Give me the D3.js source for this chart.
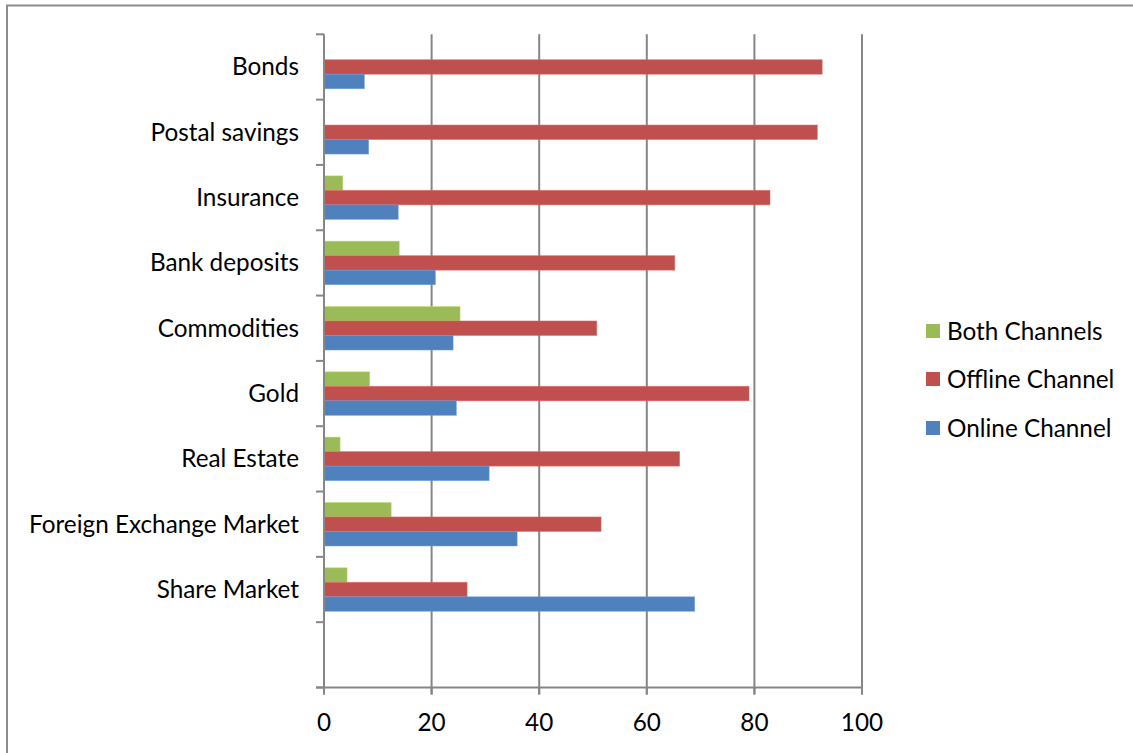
<!DOCTYPE html>
<html><head><meta charset="utf-8">
<script src="https://cdn.jsdelivr.net/npm/d3@7"></script>
<style>
body{margin:0;background:#fff;}
text{font-family:Lato,"Open Sans",sans-serif;fill:#000;}
</style></head>
<body>
<svg id="chart" width="1133" height="753"></svg>
<script>
const categories = ["Bonds","Postal savings","Insurance","Bank deposits","Commodities","Gold","Real Estate","Foreign Exchange Market","Share Market",""];
const seriesNames = ["Both Channels","Offline Channel","Online Channel"];
const bothValues    = [0, 0, 3.5, 14.0, 25.3, 8.5, 3.0, 12.5, 4.3, null];
const offlineValues = [92.6, 91.7, 82.9, 65.2, 50.7, 79.0, 66.1, 51.5, 26.6, null];
const onlineValues  = [7.5, 8.3, 13.8, 20.7, 24.0, 24.6, 30.7, 35.9, 68.9, null];
const xTicks = [0,20,40,60,80,100];
const colors = ["#9BBB59","#C0504D","#4F81BD"];

(function(){
const FS = 24.3;
const svg = d3.select("#chart");
svg.append("path").attr("d","M7,753 L7,5.5 L1133,5.5").attr("fill","none").attr("stroke","#8c8c8c").attr("stroke-width",2);

const pL = 324, pR = 862, pT = 34.3, pB = 687.5;
const x = d3.scaleLinear().domain([0,100]).range([pL,pR]);
const y = d3.scaleBand().domain(d3.range(categories.length)).range([pT,pB]);
const inner = d3.scaleBand().domain(d3.range(3)).range([0,y.bandwidth()]).paddingInner(0).paddingOuter(0.75);

svg.append("g").selectAll("line").data(xTicks.slice(1)).join("line")
  .attr("x1",d=>x(d)).attr("x2",d=>x(d)).attr("y1",pT).attr("y2",pB+7)
  .attr("stroke","#868686").attr("stroke-width",2);

const series = [bothValues, offlineValues, onlineValues];
series.forEach((vals,si)=>{
  svg.append("g").selectAll("rect").data(vals.map((v,i)=>({v,i})).filter(d=>d.v)).join("rect")
    .attr("x",x(0)).attr("y",d=>y(d.i)+inner(si))
    .attr("width",d=>x(d.v)-x(0)).attr("height",inner.bandwidth())
    .attr("fill",colors[si]).attr("stroke",d3.color(colors[si]).brighter(0.6)).attr("stroke-width",0.8).attr("stroke-opacity",0.6);
});

const yAxis = svg.append("g");
yAxis.append("line").attr("x1",pL).attr("x2",pL).attr("y1",pT).attr("y2",pB+7).attr("stroke","#868686").attr("stroke-width",2);
yAxis.selectAll("line.tk").data(d3.range(categories.length+1)).join("line").attr("class","tk")
  .attr("x1",pL-8).attr("x2",pL).attr("y1",i=>pT+i*y.step()).attr("y2",i=>pT+i*y.step())
  .attr("stroke","#868686").attr("stroke-width",2);
yAxis.selectAll("text").data(categories).join("text")
  .attr("x",299).attr("y",(d,i)=>y(i)+y.bandwidth()/2).attr("dy","0.35em")
  .attr("text-anchor","end").attr("font-size",FS).text(d=>d);

const xAxis = svg.append("g");
xAxis.append("line").attr("x1",pL-8).attr("x2",pR).attr("y1",pB).attr("y2",pB).attr("stroke","#868686").attr("stroke-width",2);
xAxis.selectAll("line.tk").data(xTicks).join("line").attr("class","tk")
  .attr("x1",d=>x(d)).attr("x2",d=>x(d)).attr("y1",pB).attr("y2",pB+7)
  .attr("stroke","#868686").attr("stroke-width",2);
xAxis.selectAll("text").data(xTicks).join("text")
  .attr("x",d=>x(d)).attr("y",722).attr("dy","0.35em").attr("text-anchor","middle").attr("font-size",FS).text(d=>d);

const legY = [331,379,428];
const leg = svg.append("g");
seriesNames.forEach((n,i)=>{
  leg.append("rect").attr("x",926).attr("y",legY[i]-7).attr("width",14).attr("height",14).attr("fill",colors[i]);
  leg.append("text").attr("x",947).attr("y",legY[i]).attr("dy","0.35em").attr("font-size",FS).text(n);
});
})();
</script>
</body></html>
